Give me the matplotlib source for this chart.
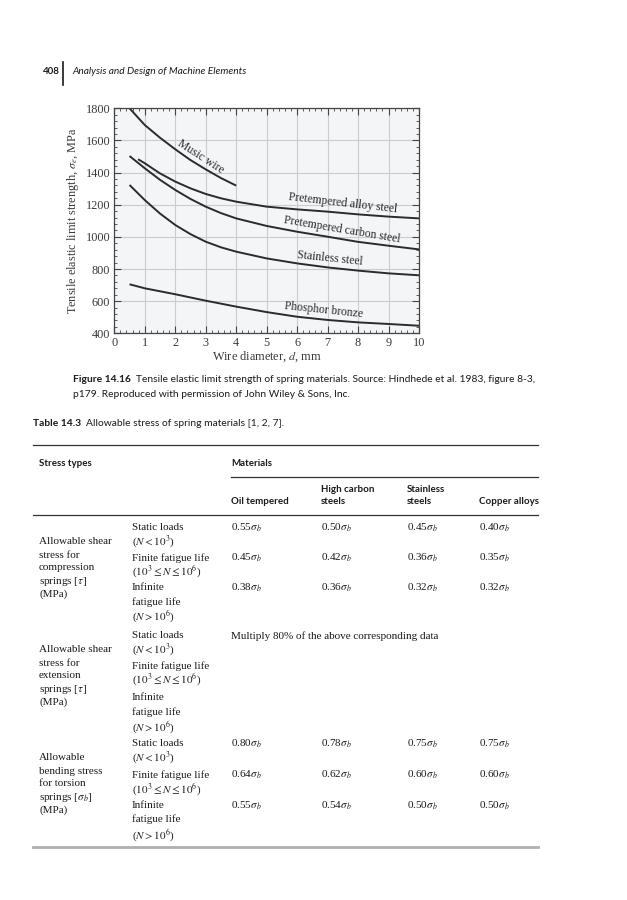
import numpy as np
import matplotlib
matplotlib.use("Agg")
import matplotlib.pyplot as plt
from matplotlib.ticker import MultipleLocator
from matplotlib.lines import Line2D

plt.rcParams['mathtext.fontset'] = 'stix'

# curve data (wire diameter in mm, strength in MPa)
music_d = [0.5, 1.0, 1.5, 2.0, 2.5, 3.0, 3.5, 4.0]
music_s = [1800, 1696, 1617, 1545, 1478, 1420, 1366, 1319]

alloy_d = [0.78, 1.0, 1.5, 2.0, 2.5, 3.0, 3.5, 4.0, 5.0, 6.0, 7.0, 8.0, 9.0, 10.0]
alloy_s = [1483, 1458, 1395, 1344, 1302, 1267, 1240, 1219, 1188, 1171, 1157, 1140, 1126, 1115]

carbon_d = [0.5, 1.0, 1.5, 2.0, 2.5, 3.0, 3.5, 4.0, 5.0, 6.0, 7.0, 8.0, 9.0, 10.0]
carbon_s = [1503, 1427, 1355, 1292, 1236, 1188, 1148, 1115, 1068, 1032, 1001, 969, 945, 922]

stain_d = [0.5, 1.0, 1.5, 2.0, 2.5, 3.0, 3.5, 4.0, 5.0, 6.0, 7.0, 8.0, 9.0, 10.0]
stain_s = [1323, 1229, 1145, 1074, 1017, 970, 935, 908, 866, 835, 810, 790, 773, 761]

bronze_d = [0.5, 1.0, 2.0, 3.0, 4.0, 5.0, 6.0, 7.0, 8.0, 9.0, 10.0]
bronze_s = [705, 680, 643, 603, 566, 532, 503, 483, 468, 458, 447]

curve_labels = ["Music wire", "Pretempered alloy steel", "Pretempered carbon steel",
                "Stainless steel", "Phosphor bronze"]

# table contents
col_heads = ["Oil tempered", "High carbon\nsteels", "Stainless\nsteels", "Copper alloys"]
compression_vals = [["0.55", "0.50", "0.45", "0.40"],
                    ["0.45", "0.42", "0.36", "0.35"],
                    ["0.38", "0.36", "0.32", "0.32"]]
torsion_vals = [["0.80", "0.78", "0.75", "0.75"],
                ["0.64", "0.62", "0.60", "0.60"],
                ["0.55", "0.54", "0.50", "0.50"]]
group_labels = [
    ["Allowable shear", "stress for", "compression", r"springs [$\tau$]", "(MPa)"],
    ["Allowable shear", "stress for", "extension", r"springs [$\tau$]", "(MPa)"],
    ["Allowable", "bending stress", "for torsion", r"springs [$\sigma_b$]", "(MPa)"],
]
cond_lines = ["Static loads", r"($N < 10^3$)", "Finite fatigue life",
              r"($10^3 \leq N \leq 10^6$)", "Infinite", "fatigue life", r"($N > 10^6$)"]

W, H = 627, 900
fig = plt.figure(figsize=(W / 100, H / 100), dpi=100)
renderer = fig.canvas.get_renderer()


def fx(px):
    return px / W


def fy(py):
    return 1 - py / H


SANS = 'Lato'
SERIF = 'Liberation Serif'
ink = '#1a1a1a'


def bold_lead(x, y, lead, rest, fs, gap=5):
    # bold label followed by plain text, placed right after the bold part
    t = fig.text(fx(x), fy(y), lead, fontsize=fs, fontweight='bold', family=SANS, va='center', color=ink)
    bb = t.get_window_extent(renderer)
    fig.text((bb.x1 + gap) / W, fy(y), rest, fontsize=fs, family=SANS, va='center', color=ink)


# running head
fig.text(fx(43), fy(72), "408", fontsize=7.0, fontweight='bold', family=SANS, va='center', color=ink)
fig.add_artist(Line2D([fx(63), fx(63)], [fy(62), fy(85)], color=ink, lw=1.2))
fig.text(fx(72), fy(72), "Analysis and Design of Machine Elements", fontsize=7.3,
         style='italic', family=SANS, va='center', color=ink)

# chart
ax = fig.add_axes([fx(114.3), fy(333.3), fx(419 - 114.3), (333.3 - 108.3) / H])
ax.set_facecolor('#f4f5f7')
gray = '#2b2b2b'
for d, s in [(music_d, music_s), (alloy_d, alloy_s), (carbon_d, carbon_s),
             (stain_d, stain_s), (bronze_d, bronze_s)]:
    ax.plot(d, s, color=gray, lw=1.4, solid_capstyle='butt')

ax.set_xlim(0, 10)
ax.set_ylim(400, 1800)
ax.xaxis.set_major_locator(MultipleLocator(1))
ax.xaxis.set_minor_locator(MultipleLocator(0.2))
ax.yaxis.set_major_locator(MultipleLocator(200))
ax.yaxis.set_minor_locator(MultipleLocator(40))
ax.grid(True, which='major', color='#c9ccd0', lw=0.8)
ax.set_axisbelow(True)
ax.tick_params(which='both', direction='in', top=True, right=True, color='#444444')
ax.tick_params(which='major', length=5, width=0.8, labelsize=8.8, pad=3, labelcolor='#3a3a3a')
ax.tick_params(which='minor', length=2.5, width=0.6)
for lab in ax.get_xticklabels() + ax.get_yticklabels():
    lab.set_family(SERIF)
for sp in ax.spines.values():
    sp.set_color('#444444')
    sp.set_linewidth(0.9)
ax.set_xlabel(r"Wire diameter, $d$, mm", family=SERIF, fontsize=8.8, color='#3a3a3a', labelpad=0)
ax.set_ylabel(r"Tensile elastic limit strength, $\sigma_e$, MPa", family=SERIF, fontsize=8.8,
              color='#3a3a3a', labelpad=3)

label_pos = [(2.85, 1500, -33), (7.51, 1209, -6.5), (7.48, 1047, -9.5), (7.08, 867, -6), (6.86, 545, -6)]
for txt, (x, y, r) in zip(curve_labels, label_pos):
    ax.text(x, y, txt, family=SERIF, fontsize=8.4, color='#2a2a2a', rotation=r,
            rotation_mode='anchor', ha='center', va='center')

# caption
bold_lead(73, 379, "Figure 14.16",
          "Tensile elastic limit strength of spring materials. Source: Hindhede et al. 1983, figure 8-3,", 7.4)
fig.text(fx(73), fy(394), "p179. Reproduced with permission of John Wiley & Sons, Inc.",
         fontsize=7.4, family=SANS, va='center', color=ink)
bold_lead(33, 424, "Table 14.3", "Allowable stress of spring materials [1, 2, 7].", 7.4)

# table rules
fig.add_artist(Line2D([fx(33), fx(538)], [fy(445), fy(445)], color='#333333', lw=0.9))
fig.add_artist(Line2D([fx(231), fx(538)], [fy(477), fy(477)], color='#333333', lw=0.9))
fig.add_artist(Line2D([fx(33), fx(538)], [fy(515), fy(515)], color='#333333', lw=0.9))
fig.add_artist(Line2D([fx(33), fx(538)], [fy(847), fy(847)], color='#b0b0b0', lw=2.0))

# table header
fig.text(fx(39), fy(463), "Stress types", fontsize=7.0, fontweight='bold', family=SANS, va='center', color=ink)
fig.text(fx(231), fy(463), "Materials", fontsize=7.0, fontweight='bold', family=SANS, va='center', color=ink)
col_x = [231, 321, 407, 479]
for x, h in zip(col_x, col_heads):
    fig.text(fx(x), fy(504), h, fontsize=7.0, fontweight='bold', family=SANS, va='baseline',
             color=ink, linespacing=1.5)

# table body
cond_y = [[528, 542, 558, 572, 588, 602, 617],
          [636, 650, 666, 680, 698, 712, 728],
          [744, 758, 775, 790, 806, 819, 836]]
group_y = [542, 650, 758]
body_fs = 8.0
for g in range(3):
    for i, t in enumerate(group_labels[g]):
        fig.text(fx(39), fy(group_y[g] + 13 * i), t, fontsize=body_fs, family=SERIF, va='center', color=ink)
    for t, y in zip(cond_lines, cond_y[g]):
        fig.text(fx(132), fy(y), t, fontsize=body_fs, family=SERIF, va='center', color=ink)

for vals, ys in [(compression_vals, [528, 558, 588]), (torsion_vals, [744, 775, 806])]:
    for row, y in zip(vals, ys):
        for x, v in zip(col_x, row):
            fig.text(fx(x), fy(y), v + r"$\sigma_b$", fontsize=body_fs, family=SERIF, va='center', color=ink)

fig.text(fx(231), fy(636), "Multiply 80% of the above corresponding data", fontsize=body_fs,
         family=SERIF, va='center', color=ink)

fig.savefig("out.png", dpi=100, facecolor='white')
